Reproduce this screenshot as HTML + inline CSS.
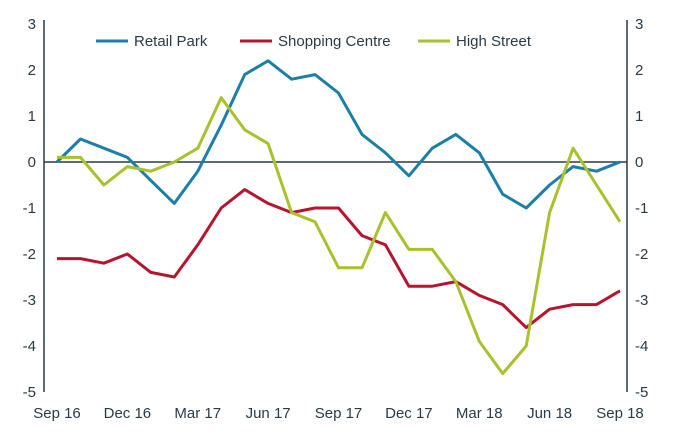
<!DOCTYPE html>
<html><head><meta charset="utf-8"><style>
html,body{margin:0;padding:0;background:#fff;}
svg{display:block;font-family:"Liberation Sans",sans-serif;}
</style></head><body>
<svg id="c" width="680" height="436" xmlns="http://www.w3.org/2000/svg">
<g id="g"></g>
</svg>
<script>
const g=document.getElementById('g');
const X0=57,DX=(620-57)/24,Y0=162,DY=46;
const x=i=>X0+i*DX, y=v=>Y0-v*DY;
let s='';
s+=`<line x1="44" y1="20" x2="44" y2="392" stroke="#2a3a44" stroke-width="1.5"/>`;
s+=`<line x1="627" y1="20" x2="627" y2="392" stroke="#2a3a44" stroke-width="1.5"/>`;
s+=`<line x1="44" y1="${Y0}" x2="627" y2="${Y0}" stroke="#2a3a44" stroke-width="1.5"/>`;
for(let v=3;v>=-5;v--){
 s+=`<text x="36" y="${y(v)+5}" font-size="15" fill="#2a3a44" text-anchor="end">${v}</text>`;
 s+=`<text x="635" y="${y(v)+5}" font-size="15" fill="#2a3a44">${v}</text>`;
}
const labs=['Sep 16','Dec 16','Mar 17','Jun 17','Sep 17','Dec 17','Mar 18','Jun 18','Sep 18'];
labs.forEach((l,k)=>{s+=`<text x="${x(k*3)}" y="418" font-size="15" fill="#2a3a44" text-anchor="middle">${l}</text>`;});
const rp=[0,0.5,0.3,0.1,-0.4,-0.9,-0.2,0.8,1.9,2.2,1.8,1.9,1.5,0.6,0.2,-0.3,0.3,0.6,0.2,-0.7,-1.0,-0.5,-0.1,-0.2,0];
const sc=[-2.1,-2.1,-2.2,-2.0,-2.4,-2.5,-1.8,-1.0,-0.6,-0.9,-1.1,-1.0,-1.0,-1.6,-1.8,-2.7,-2.7,-2.6,-2.9,-3.1,-3.6,-3.2,-3.1,-3.1,-2.8];
const hs=[0.1,0.1,-0.5,-0.1,-0.2,0,0.3,1.4,0.7,0.4,-1.1,-1.3,-2.3,-2.3,-1.1,-1.9,-1.9,-2.6,-3.9,-4.6,-4.0,-1.1,0.3,-0.5,-1.3];
const pl=(d,c)=>`<polyline fill="none" stroke="${c}" stroke-width="3" stroke-linejoin="round" points="${d.map((v,i)=>x(i).toFixed(1)+','+y(v).toFixed(1)).join(' ')}"/>`;
s+=pl(rp,'#1b7fa6')+pl(sc,'#b5152e')+pl(hs,'#a8c12c');
const leg=[['Retail Park','#1b7fa6',96],['Shopping Centre','#b5152e',240],['High Street','#a8c12c',418]];
leg.forEach(([t,c,lx])=>{s+=`<line x1="${lx}" y1="41" x2="${lx+32}" y2="41" stroke="${c}" stroke-width="3"/><text x="${lx+38}" y="46" font-size="15" fill="#2a3a44">${t}</text>`;});
g.innerHTML=s;
</script>
</body></html>
